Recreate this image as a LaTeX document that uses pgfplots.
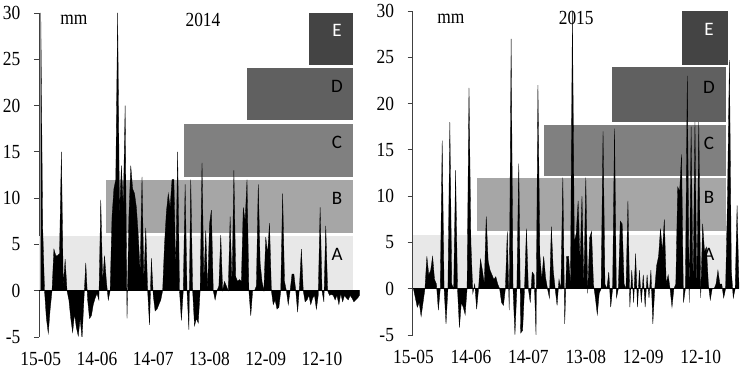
\documentclass[border=0pt]{standalone}
\usepackage{pgfplots}
\pgfplotsset{compat=1.18}
\usepackage{pgfplotstable}
\usepackage{fontspec}
\setmainfont{Liberation Serif}
\newfontfamily\tickfont{Liberation Serif}[FakeStretch=0.87]
\newfontfamily\calfont{Carlito}

\definecolor{gA}{RGB}{232,232,232}
\definecolor{gB}{RGB}{166,166,166}
\definecolor{gC}{RGB}{128,128,128}
\definecolor{gD}{RGB}{96,96,96}
\definecolor{gE}{RGB}{68,68,68}

\pgfplotstableread[row sep=\\]{
d v\\
0 0\\0 30\\1 7\\2 0\\3 -3\\4 -4.6\\5 -2\\6 0\\7 4.5\\8 3.8\\9 3.8\\10 4\\11 15\\12 0.5\\13 3.4\\14 0\\15 -1\\16 -3\\17 -4.5\\18 -2.5\\19 -4\\20 -4.9\\
21 -3\\22 -5.2\\23 -1\\24 3\\25 -1\\26 -3\\27 -2.7\\28 -1.5\\29 -0.8\\30 -0.3\\31 -1\\32 9.8\\33 1\\34 3.8\\35 1\\36 -1\\37 0\\38 8\\39 11\\40 12\\
41 30\\42 8\\43 13.5\\44 9\\45 20\\46 -3\\47 8\\48 13.5\\49 11\\50 10.5\\51 9\\52 6\\53 2\\54 12.3\\55 1\\56 6.8\\57 0\\58 -3.7\\59 3.5\\60 -0.5\\
61 -2.2\\62 -2\\63 -1.5\\64 -1\\65 0\\66 5\\67 8.5\\68 10.5\\69 9\\70 12\\71 12\\72 2\\73 15\\74 0\\75 -3.2\\76 0\\77 11.5\\78 0\\79 -4.2\\80 12\\
81 0\\82 -3.8\\83 -3\\84 -3.5\\85 0\\86 13.8\\87 1\\88 6.5\\89 0\\90 7.2\\91 8.7\\92 0\\93 -1\\94 0\\95 0.5\\96 6\\97 0\\98 1\\99 0.5\\100 0\\
101 8\\102 0.5\\103 13\\104 1.5\\105 1\\106 1.2\\107 1\\108 9\\109 7.5\\110 12\\111 0\\112 -2.7\\113 0\\114 0\\115 0.5\\116 11.5\\117 3\\118 1\\119 0\\120 5.8\\
121 4\\122 7.3\\123 0\\124 -1.5\\125 -1\\126 -2\\127 -1.8\\128 0\\129 10.5\\130 1\\131 0\\132 -1.5\\133 0\\134 1.8\\135 1.8\\136 0\\137 -2.3\\138 0.5\\139 4.5\\140 0\\
141 -1.2\\142 -1\\143 -0.5\\144 -1.5\\145 -0.8\\146 -0.5\\147 -2\\148 -0.5\\149 9\\150 0\\151 -1.2\\152 7\\153 0\\154 -0.5\\155 -0.4\\156 -0.5\\157 -1\\158 -0.5\\159 -1.5\\160 -0.3\\
161 -1.2\\162 -0.5\\163 -0.8\\164 -1\\165 -0.5\\166 -0.8\\167 -1.2\\168 -1\\169 -0.8\\170 -0.5\\170 0\\
}\dataA

\pgfplotstableread[row sep=\\]{
d v\\
0 0\\1 -1\\2 -2\\3 -1.5\\4 -3\\5 -1.5\\6 0\\7 3.5\\8 1.5\\9 2\\10 3.5\\11 1\\12 0.5\\13 -2.3\\14 0\\15 16\\16 0\\17 -3.8\\18 0\\19 18\\20 0.5\\
21 0\\22 12.8\\23 0\\24 -4.2\\25 -1.5\\26 -2\\27 -2.8\\28 0\\29 21.7\\30 5\\31 -0.5\\32 0.5\\33 -2.2\\34 0\\35 3.2\\36 2\\37 0.5\\38 7.8\\39 3\\40 2\\
41 1.5\\42 1\\43 1.3\\44 0.5\\45 0\\46 -1.5\\47 -1.8\\48 0\\49 6.2\\50 -2.3\\51 27\\52 0\\53 -5\\54 0\\55 13.5\\56 -4.8\\57 -4.5\\58 0\\59 6.5\\60 0\\
61 -1.5\\62 1.8\\63 1.5\\64 -5\\65 22\\66 3.7\\67 1\\68 3.5\\69 1.2\\70 0\\71 -1\\72 6.7\\73 2\\74 0\\75 -1.8\\76 1\\77 0\\78 12\\79 -3.8\\80 3.5\\
81 3.5\\82 0.5\\83 30\\84 5\\85 6\\86 9.5\\87 3\\88 10\\89 0.5\\90 12\\91 -0.5\\92 5.5\\93 6.2\\94 0.5\\95 -1\\96 -2.8\\97 -0.5\\98 0\\99 17\\100 0.5\\
101 0\\102 1.8\\103 -2\\104 0\\105 17.3\\106 -1\\107 0\\108 7.3\\109 7\\110 0.5\\111 0\\112 9.5\\113 -2\\114 2\\115 -1.5\\116 3.8\\117 -2\\118 2\\119 -1.5\\120 1.5\\
121 -2\\122 1.5\\123 -1\\124 2\\125 -3.8\\126 0\\127 2.5\\128 3.5\\129 6.5\\130 4\\131 7.5\\132 0.5\\133 1.5\\134 0\\135 -2\\136 0\\137 0.5\\138 11\\139 10.5\\140 14.5\\
141 -1.5\\142 0\\143 23\\144 -1.5\\145 17.5\\146 0\\147 18\\148 0\\149 18\\150 -1\\151 7\\152 4\\153 4.5\\154 0.5\\155 -1.2\\156 0\\157 0\\158 0.5\\159 2\\160 0.5\\
161 0.5\\162 -1\\163 0\\164 10\\165 24.7\\166 2\\167 -1\\168 0\\169 9\\170 0\\
}\dataB

\pgfplotsset{
  panel/.style={
    scale only axis, height=324pt, anchor=south west,
    ymin=-5, ymax=30,
    axis y line*=left, axis x line*=bottom,
    x axis line style={draw=none},
    y axis line style={draw=black!75, line width=0.8pt},
    ytick={-5,0,5,10,15,20,25,30},
    xtick={0,30,60,90,120,150},
    xticklabels={15-05,14-06,14-07,13-08,12-09,12-10},
    xtick style={draw=none},
    ytick style={draw=black!75, line width=0.8pt},
    tick align=outside, major tick length=5pt,
    /pgf/number format/assume math mode=true,
    tick label style={font=\tickfont\fontsize{20}{20}\selectfont},
    yticklabel style={xshift=-10pt},
    xticklabel style={yshift=-7pt},
  },
}
\tikzset{
  lab/.style={font=\calfont\fontsize{19}{19}\selectfont},
  txt/.style={font=\tickfont\fontsize{20}{20}\selectfont},
}

\begin{document}
\begin{tikzpicture}
\useasboundingbox (0,0) rectangle (742pt,377pt);
% ---- 2014 ----
\begin{axis}[panel, at={(38.9pt,40pt)}, width=320.6pt, xmin=-1, xmax=170]
\addplot[fill=gA, draw=none] coordinates {(-1,0) (166.5,0) (166.5,5.9) (-1,5.9)};
\addplot[fill=gB, draw=none] coordinates {(35,6.2) (166.5,6.2) (166.5,12) (35,12)};
\addplot[fill=gC, draw=none] coordinates {(76.6,12.3) (166.5,12.3) (166.5,18) (76.6,18)};
\addplot[fill=gD, draw=none] coordinates {(110,18.4) (166.5,18.4) (166.5,24.1) (110,24.1)};
\addplot[fill=gE, draw=none] coordinates {(143,24.4) (166.5,24.4) (166.5,30) (143,30)};
\addplot[fill=black, draw=black, line width=0.3pt] table[x=d, y=v] {\dataA};
\addplot[black, line width=0.6pt] coordinates {(-1,0) (170,0)};
\node[lab] at (158,3.9) {A};
\node[lab] at (158,10) {B};
\node[lab] at (158,16) {C};
\node[lab] at (158,22.1) {D};
\node[lab, text=white] at (158,28.1) {E};
\node[txt] at (17.7,29.3) {mm};
\node[txt] at (86.5,29.3) {2014};
\end{axis}
% ---- 2015 ----
\begin{axis}[panel, at={(412.5pt,42pt)}, width=326.5pt, xmin=-0.5, xmax=170]
\addplot[fill=gA, draw=none] coordinates {(-0.5,0) (163,0) (163,5.8) (-0.5,5.8)};
\addplot[fill=gB, draw=none] coordinates {(33,6.2) (163,6.2) (163,11.95) (33,11.95)};
\addplot[fill=gC, draw=none] coordinates {(68,12.2) (163,12.2) (163,17.7) (68,17.7)};
\addplot[fill=gD, draw=none] coordinates {(103.5,18) (163,18) (163,23.9) (103.5,23.9)};
\addplot[fill=gE, draw=none] coordinates {(140,24.2) (164,24.2) (164,30) (140,30)};
\node[txt] at (19.6,29.2) {mm};
\node[txt] at (85,29.2) {2015};
\addplot[fill=black, draw=black, line width=0.3pt] table[x=d, y=v] {\dataB};
\addplot[black, line width=0.6pt] coordinates {(-0.5,0) (170,0)};
\node[lab] at (154.3,3.7) {A};
\node[lab] at (154.3,9.9) {B};
\node[lab] at (154.3,15.7) {C};
\node[lab] at (154.3,21.8) {D};
\node[lab, text=white] at (154.3,28) {E};
\end{axis}
\end{tikzpicture}
\end{document}
